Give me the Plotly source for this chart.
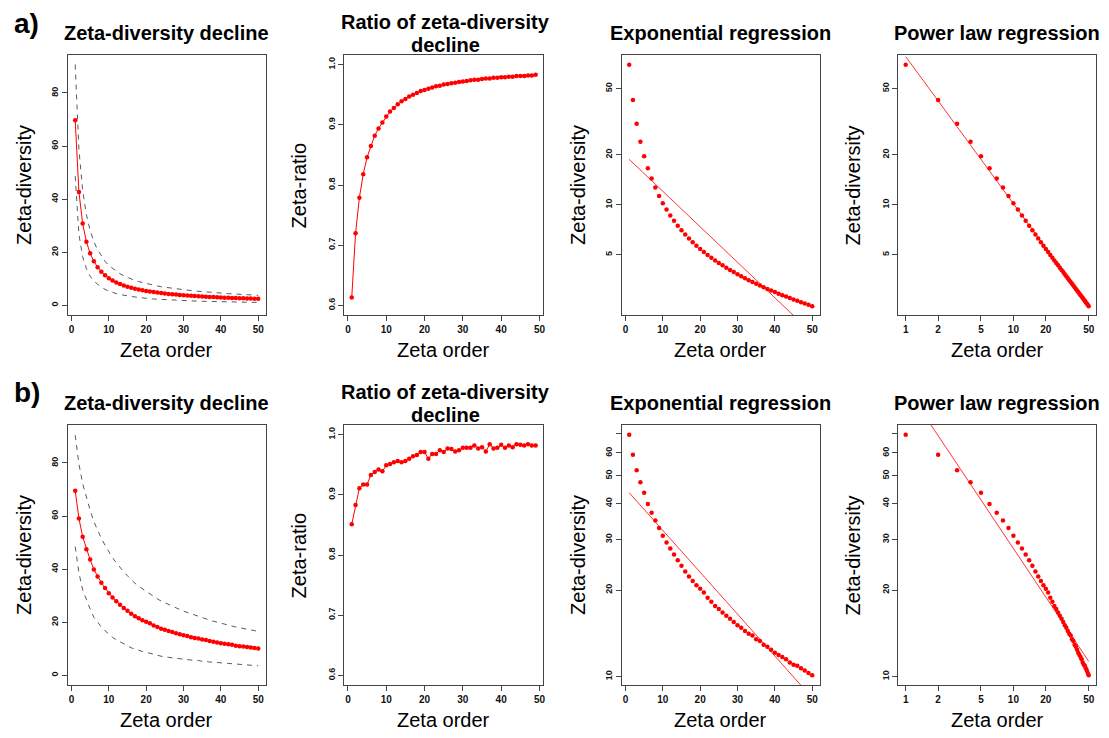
import numpy as np
import plotly.graph_objects as go

# ---------------- data ----------------
orders = list(range(1, 51))
ratio_orders = list(range(1, 50))

zeta_a = [69.7, 42.7, 30.8, 24.0, 19.6, 16.6, 14.4, 12.7, 11.3, 10.2,
          9.35, 8.62, 8.00, 7.47, 7.02, 6.62, 6.27, 5.95, 5.67, 5.42,
          5.19, 4.99, 4.80, 4.62, 4.46, 4.32, 4.18, 4.05, 3.93, 3.81,
          3.71, 3.61, 3.51, 3.42, 3.34, 3.26, 3.18, 3.11, 3.04, 2.98,
          2.91, 2.85, 2.80, 2.74, 2.69, 2.64, 2.59, 2.54, 2.50, 2.45]
sd_a = [21.0, 16.0, 12.5, 10.2, 8.6, 7.4, 6.5, 5.8, 5.3, 4.8,
        4.5, 4.2, 3.9, 3.7, 3.5, 3.3, 3.1, 3.0, 2.9, 2.8,
        2.7, 2.6, 2.5, 2.4, 2.35, 2.3, 2.2, 2.15, 2.1, 2.05,
        2.0, 1.95, 1.9, 1.85, 1.8, 1.77, 1.73, 1.7, 1.66, 1.63,
        1.6, 1.57, 1.54, 1.51, 1.48, 1.45, 1.42, 1.39, 1.36, 1.33]
ratio_a = [0.613, 0.720, 0.779, 0.818, 0.846, 0.865, 0.882, 0.894, 0.904, 0.914,
           0.922, 0.928, 0.934, 0.939, 0.943, 0.947, 0.950, 0.953, 0.956, 0.958,
           0.960, 0.962, 0.964, 0.965, 0.967, 0.968, 0.969, 0.970, 0.971, 0.972,
           0.973, 0.974, 0.975, 0.975, 0.976, 0.977, 0.977, 0.978, 0.978, 0.979,
           0.979, 0.980, 0.980, 0.981, 0.981, 0.981, 0.982, 0.982, 0.983]

zeta_b = [69.5, 59.1, 52.2, 47.5, 43.6, 39.9, 37.2, 34.9, 32.9, 30.9,
          29.3, 27.9, 26.6, 25.4, 24.3, 23.2, 22.3, 21.5, 20.8, 20.2,
          19.6, 18.8, 18.2, 17.6, 17.2, 16.7, 16.3, 15.9, 15.5, 15.1,
          14.8, 14.4, 14.1, 13.9, 13.5, 13.3, 12.9, 12.7, 12.4, 12.1,
          11.9, 11.7, 11.5, 11.2, 11.0, 10.9, 10.7, 10.5, 10.3, 10.1]
sd_b = [21.0, 20.5, 20.0, 19.3, 18.6, 18.0, 17.3, 16.7, 16.1, 15.5,
        15.0, 14.5, 14.0, 13.6, 13.2, 12.8, 12.4, 12.1, 11.8, 11.5,
        11.2, 10.9, 10.6, 10.4, 10.1, 9.9, 9.7, 9.5, 9.3, 9.1,
        8.9, 8.7, 8.5, 8.3, 8.2, 8.0, 7.9, 7.7, 7.6, 7.5,
        7.3, 7.2, 7.1, 7.0, 6.9, 6.8, 6.7, 6.6, 6.55, 6.5]
ratio_b = [0.851, 0.883, 0.911, 0.917, 0.917, 0.933, 0.938, 0.942, 0.939, 0.949,
           0.951, 0.954, 0.956, 0.954, 0.956, 0.960, 0.964, 0.966, 0.971, 0.971,
           0.960, 0.968, 0.968, 0.974, 0.971, 0.977, 0.976, 0.972, 0.974, 0.978,
           0.978, 0.978, 0.982, 0.977, 0.979, 0.972, 0.984, 0.977, 0.978, 0.983,
           0.978, 0.982, 0.979, 0.984, 0.983, 0.982, 0.984, 0.982, 0.982]

panel_titles = ["Zeta-diversity decline", ["Ratio of zeta-diversity", "decline"],
                "Exponential regression", "Power law regression"]
row_labels = ["a)", "b)"]

# ---------------- layout helpers ----------------
W, H = 1109, 738
FONT = "Liberation Sans, Arial, Helvetica, sans-serif"
RED = "#ff0000"
col_px = [(68, 266), (345, 544), (623, 821), (900, 1098)]
row_px = [(55, 315), (425, 685)]


def px(x):
    return x / W


def py(y):
    return 1 - y / H


fig = go.Figure()
layout = dict(width=W, height=H, margin=dict(l=0, r=0, t=0, b=0),
              paper_bgcolor="white", plot_bgcolor="white", showlegend=False,
              font=dict(family=FONT, color="black"))

xtickfont = dict(family=FONT, size=10, color="#111", weight="bold")
ytickfont = dict(family=FONT, size=9, color="#111", weight="bold")
axis_common = dict(showline=True, mirror=True, linecolor="#444", linewidth=1,
                   ticks="outside", ticklen=5, tickcolor="#444", showgrid=False,
                   zeroline=False)

annotations = []
x_lin = [0, 10, 20, 30, 40, 50]

for r, (zeta, sd, ratio) in enumerate([(zeta_a, sd_a, ratio_a), (zeta_b, sd_b, ratio_b)]):
    zeta_arr = np.array(zeta)
    sd_arr = np.array(sd)
    k = np.array(orders, dtype=float)
    for c in range(4):
        n = r * 4 + c + 1
        xa = "x" if n == 1 else f"x{n}"
        ya = "y" if n == 1 else f"y{n}"
        xdom = [px(col_px[c][0]), px(col_px[c][1])]
        ydom = [py(row_px[r][1]), py(row_px[r][0])]
        xax = dict(axis_common, domain=xdom, anchor=ya, tickfont=xtickfont)
        yax = dict(axis_common, domain=ydom, anchor=xa, tickangle=-90, tickfont=ytickfont)

        if c == 0:
            fig.add_trace(go.Scatter(x=orders, y=list(zeta_arr + sd_arr), mode="lines",
                                     line=dict(color="#5a5a5a", width=1, dash="5px,5px"),
                                     xaxis=xa, yaxis=ya))
            fig.add_trace(go.Scatter(x=orders, y=list(zeta_arr - sd_arr), mode="lines",
                                     line=dict(color="#5a5a5a", width=1, dash="5px,5px"),
                                     xaxis=xa, yaxis=ya))
            fig.add_trace(go.Scatter(x=orders, y=zeta, mode="lines+markers",
                                     line=dict(color=RED, width=1),
                                     marker=dict(color=RED, size=4.5),
                                     xaxis=xa, yaxis=ya))
            xax.update(range=[-0.96, 51.96], tickvals=x_lin)
            yax.update(range=[-3.63, 94.3], tickvals=[0, 20, 40, 60, 80])
        elif c == 1:
            fig.add_trace(go.Scatter(x=ratio_orders, y=ratio, mode="lines+markers",
                                     line=dict(color=RED, width=1),
                                     marker=dict(color=RED, size=4.5),
                                     xaxis=xa, yaxis=ya))
            xax.update(range=[-0.92, 50.92], tickvals=x_lin)
            yax.update(range=[0.584, 1.016], tickvals=[0.6, 0.7, 0.8, 0.9, 1.0],
                       ticktext=["0.6", "0.7", "0.8", "0.9", "1.0"])
        elif c == 2:
            slope, icpt = np.polyfit(k, np.log10(zeta_arr), 1)
            fig.add_trace(go.Scatter(x=orders, y=list(10 ** (icpt + slope * k)), mode="lines",
                                     line=dict(color=RED, width=0.8),
                                     xaxis=xa, yaxis=ya))
            fig.add_trace(go.Scatter(x=orders, y=zeta, mode="markers",
                                     marker=dict(color=RED, size=4.5),
                                     xaxis=xa, yaxis=ya))
            xax.update(range=[-0.96, 51.96], tickvals=x_lin)
        else:
            slope, icpt = np.polyfit(np.log10(k), np.log10(zeta_arr), 1)
            fig.add_trace(go.Scatter(x=orders, y=list(10 ** (icpt + slope * np.log10(k))),
                                     mode="lines", line=dict(color=RED, width=0.8),
                                     xaxis=xa, yaxis=ya))
            fig.add_trace(go.Scatter(x=orders, y=zeta, mode="markers",
                                     marker=dict(color=RED, size=4.5),
                                     xaxis=xa, yaxis=ya))
            xax.update(type="log", range=[-0.068, 1.767], tickvals=[1, 2, 5, 10, 20, 50],
                       ticktext=["1", "2", "5", "10", "20", "50"])
        if c >= 2:
            if r == 0:
                yax.update(type="log", range=[0.336, 1.902], tickvals=[5, 10, 20, 50],
                           ticktext=["5", "10", "20", "50"])
            else:
                yax.update(type="log", range=[0.9708, 1.8755],
                           tickvals=[10, 20, 30, 40, 50, 60, 70],
                           ticktext=["10", "20", "30", "40", "50", "60", ""])

        layout["xaxis" if n == 1 else f"xaxis{n}"] = xax
        layout["yaxis" if n == 1 else f"yaxis{n}"] = yax

        # titles
        cx = px((col_px[c][0] + col_px[c][1]) / 2)
        off = r * 370
        t = panel_titles[c]
        tfont = dict(family=FONT, size=20, color="black")
        if isinstance(t, list):
            annotations.append(dict(text=f"<b>{t[0]}</b>", x=px(446), y=py(22 + off),
                                    xref="paper", yref="paper", showarrow=False,
                                    xanchor="center", yanchor="middle", font=tfont))
            annotations.append(dict(text=f"<b>{t[1]}</b>", x=px(446), y=py(45 + off),
                                    xref="paper", yref="paper", showarrow=False,
                                    xanchor="center", yanchor="middle", font=tfont))
        else:
            annotations.append(dict(text=f"<b>{t}</b>", x=cx, y=py(33 + off),
                                    xref="paper", yref="paper", showarrow=False,
                                    xanchor="center", yanchor="middle", font=tfont))
        # axis labels
        annotations.append(dict(text="Zeta order", x=cx, y=py(350 + off),
                                xref="paper", yref="paper", showarrow=False,
                                xanchor="center", yanchor="middle",
                                font=dict(family=FONT, size=20, color="black")))
        ylab = "Zeta-ratio" if c == 1 else "Zeta-diversity"
        ylab_x = [24, 300, 579, 855][c]
        annotations.append(dict(text=ylab, x=px(ylab_x), y=py(185 + off),
                                xref="paper", yref="paper", showarrow=False,
                                textangle=-90, xanchor="center", yanchor="middle",
                                font=dict(family=FONT, size=20, color="black")))
    annotations.append(dict(text=f"<b>{row_labels[r]}</b>", x=px(27), y=py(23 + r * 370),
                            xref="paper", yref="paper", showarrow=False,
                            xanchor="center", yanchor="middle",
                            font=dict(family=FONT, size=28, color="black")))

layout["annotations"] = annotations
fig.update_layout(**layout)
fig.write_html("out.html", post_script="document.body.style.margin='0';",
               config={"displayModeBar": False})
